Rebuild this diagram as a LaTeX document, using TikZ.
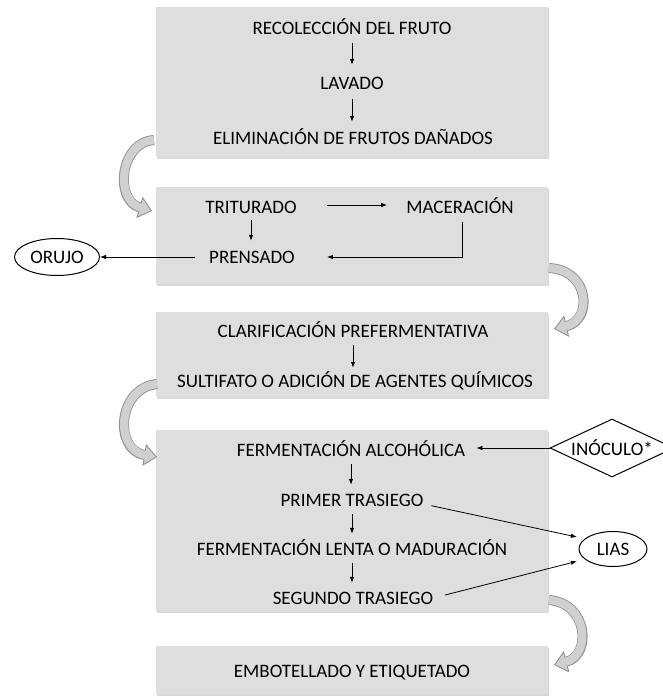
\documentclass[tikz,border=0pt]{standalone}
\usepackage{fontspec}
\setmainfont{Carlito}
\usetikzlibrary{arrows.meta,shapes.geometric,shadows}
\definecolor{boxfill}{RGB}{222,222,222}
\definecolor{bandfill}{RGB}{208,208,208}
\definecolor{bandline}{RGB}{145,145,145}
\begin{document}
\begin{tikzpicture}[x=1pt,y=-1pt,
  stage/.style={fill=boxfill, draw=none, inner sep=0pt,
    drop shadow={shadow xshift=1pt, shadow yshift=-1.5pt, opacity=0.3}},
  lbl/.style={inner sep=0pt, text height=12pt, text depth=0pt,
    font=\fontsize{19}{21}\selectfont},
  flow/.style={draw=black, line width=0.8pt, -{Latex[length=6pt,width=4.5pt]}},
  vstep/.style={flow, shorten <=8pt, shorten >=9pt},
  product/.style={ellipse, draw=black, line width=1pt, fill=white, inner sep=0pt,
    font=\fontsize{19}{21}\selectfont},
  input/.style={diamond, draw=black, line width=1pt, fill=white, inner sep=0pt,
    shape aspect=2.14, font=\fontsize{19}{21}\selectfont},
  bandout/.style={draw=bandline, line width=10pt,
    -{Triangle[length=13pt,width=22pt,line width=0.9pt,fill=bandfill]}},
  bandin/.style={draw=bandfill, line width=8.2pt, shorten >=11.8pt},
]
\useasboundingbox (0,0) rectangle (662,698);

% stage boxes
\node[stage, minimum width=392pt, minimum height=150pt] (s1) at (352,82) {};
\node[stage, minimum width=392pt, minimum height=97pt]  (s2) at (352,235.5) {};
\node[stage, minimum width=392pt, minimum height=85pt]  (s3) at (352,354.5) {};
\node[stage, minimum width=392pt, minimum height=181pt] (s4) at (352,520.5) {};
\node[stage, minimum width=392pt, minimum height=48pt]  (s5) at (352,670) {};

% curved block arrows linking the stages
\foreach \a/\b/\c/\d in {
  {(154,140)}/{(120,142)}/{(114,200)}/{(152,211)},
  {(549,268)}/{(590,270)}/{(593,320)}/{(554,329)},
  {(157,384)}/{(117,388)}/{(114,450)}/{(157,457)},
  {(549,600)}/{(588,603)}/{(592,655)}/{(554,665)}}{
  \draw[bandout] \a .. controls \b and \c .. \d;
  \draw[bandin]  \a .. controls \b and \c .. \d;
}

% stage 1
\node[lbl] (rec) at (352,29)  {RECOLECCIÓN DEL FRUTO};
\node[lbl] (lav) at (352,84)  {LAVADO};
\node[lbl] (eli) at (353,138) {ELIMINACIÓN DE FRUTOS DAÑADOS};
\draw[vstep, shorten >=13pt] (rec) -- (rec |- lav.north);
\draw[vstep, shorten <=9pt, shorten >=10pt] (lav) -- (lav |- eli.north);

% stage 2
\node[lbl] (tri) at (251,207) {TRITURADO};
\node[lbl] (mac) at (460,207) {MACERACIÓN};
\node[lbl] (pre) at (252,257) {PRENSADO};
\node[product, minimum width=85pt, minimum height=37pt] (oru) at (57,257) {ORUJO};
\draw[flow, shorten <=30pt, shorten >=19pt] ([yshift=2pt]tri.east) -- ([yshift=2pt]mac.west);
\draw[vstep, shorten <=7pt, shorten >=10pt] (tri) -- (tri |- pre.north);
\draw[flow] ([xshift=2pt,yshift=-9pt]mac.south) |- ([xshift=32pt]pre.east);
\draw[flow, shorten <=14pt] (pre.west) -- (oru.east);

% stage 3
\node[lbl] (cla) at (353,331) {CLARIFICACIÓN PREFERMENTATIVA};
\node[lbl] (sul) at (355,381) {SULTIFATO O ADICIÓN DE AGENTES QUÍMICOS};
\draw[vstep, shorten >=7pt] (cla) -- (cla |- sul.north);

% stage 4
\node[lbl] (fal) at (351,450) {FERMENTACIÓN ALCOHÓLICA};
\node[lbl] (pri) at (352,500) {PRIMER TRASIEGO};
\node[lbl] (fle) at (352,549) {FERMENTACIÓN LENTA O MADURACIÓN};
\node[lbl] (seg) at (353,598) {SEGUNDO TRASIEGO};
\node[input, minimum width=124pt, minimum height=58pt] (ino) at (612,448) {INÓCULO*};
\node[product, minimum width=68pt, minimum height=35pt] (lias) at (613,549) {LIAS};
\draw[vstep] (fal) -- (fal |- pri.north);
\draw[vstep] (pri) -- (pri |- fle.north);
\draw[vstep] (fle) -- (fle |- seg.north);
\draw[flow, shorten >=11pt] (ino.west) -- (fal.east |- ino.west);
\draw[flow, shorten <=8pt, shorten >=8pt] ([yshift=-4pt]pri.east) -- (lias.160);
\draw[flow, shorten <=12pt, shorten >=8pt] (seg.east) -- (lias.200);

% stage 5
\node[lbl] (emb) at (352,671) {EMBOTELLADO Y ETIQUETADO};
\end{tikzpicture}
\end{document}
